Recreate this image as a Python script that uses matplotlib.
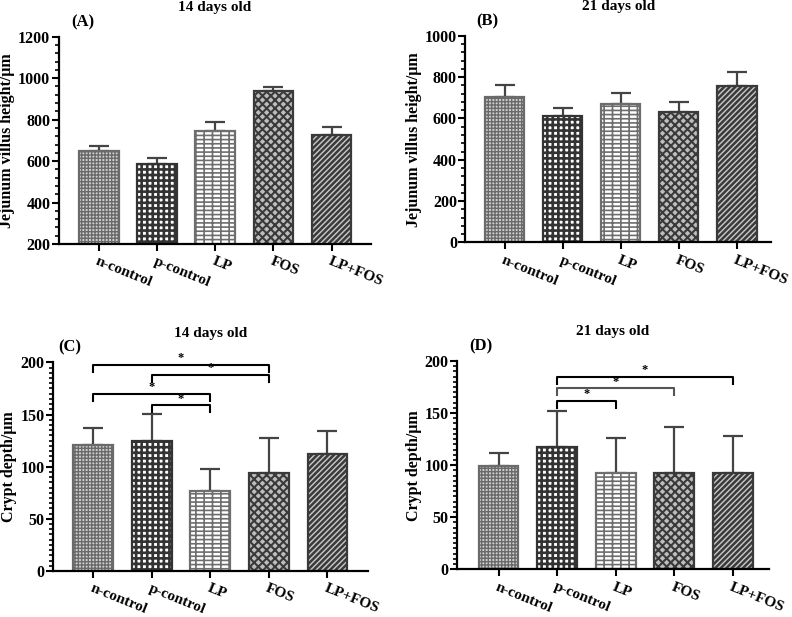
import matplotlib
matplotlib.use('Agg')
import matplotlib.pyplot as plt
from matplotlib.ticker import MultipleLocator

plt.rcParams['font.family'] = ['Liberation Serif', 'DejaVu Serif']
plt.rcParams['font.weight'] = 'bold'
plt.rcParams['hatch.linewidth'] = 1.3

groups = ['n-control', 'p-control', 'LP', 'FOS', 'LP+FOS']

# villus height, jejunum (um)
villus_14 = [650, 588, 743, 936, 724]
villus_14_err = [24, 28, 45, 23, 40]
villus_21 = [705, 610, 669, 632, 758]
villus_21_err = [55, 43, 55, 49, 66]

# crypt depth (um)
crypt_14 = [121, 125, 77, 94, 112]
crypt_14_err = [16, 26, 21, 34, 22]
crypt_21 = [99, 117, 92, 92, 92]
crypt_21_err = [13, 35, 34, 45, 36]

# significance brackets: (i, j, line height, drop)
sig_14 = [(0, 3, 198, 7), (1, 3, 188, 7), (0, 2, 170, 7), (1, 2, 159, 7)]
sig_21 = [(1, 4, 185, 7), (1, 3, 174, 7), (1, 2, 162, 7)]

faces = ['#cfcfcf', 'white', 'white', '#bdbdbd', '#c8c8c8']
edges = ['#6a6a6a', '#333333', '#6e6e6e', '#3a3a3a', '#3a3a3a']
hatches = ['+++++', '+++', '----||', 'xxxx', '//////']
hatch_lw = [1.0, 1.9, 1.2, 1.5, 1.8]

fig = plt.figure(figsize=(7.92, 6.17), dpi=100)
axA = fig.add_axes([0.074, 0.6045, 0.394, 0.336])
axB = fig.add_axes([0.5875, 0.607, 0.386, 0.335])
axC = fig.add_axes([0.0665, 0.0746, 0.398, 0.338])
axD = fig.add_axes([0.577, 0.0773, 0.394, 0.3376])


def draw(ax, vals, errs, ylim, major, minor, ylabel, title, tag, xlim, sig=None):
    x = range(len(groups))
    ax.errorbar(x, vals, yerr=[[0] * len(vals), errs], fmt='none', ecolor='#444444',
                elinewidth=1.6, capsize=7, capthick=1.6, zorder=1)
    for i in x:
        with plt.rc_context({'hatch.linewidth': hatch_lw[i]}):
            ax.bar(i, vals[i], width=0.68, color=faces[i], edgecolor=edges[i],
                   hatch=hatches[i], linewidth=1.6, zorder=2)
    ax.set_xlim(*xlim)
    ax.set_ylim(*ylim)
    ax.yaxis.set_major_locator(MultipleLocator(major))
    ax.yaxis.set_minor_locator(MultipleLocator(minor))
    ax.set_xticks(list(x))
    ax.set_xticklabels(groups, rotation=-22, ha='left', va='top',
                       rotation_mode='anchor', fontsize=11, fontweight='bold')
    for lab in ax.get_yticklabels():
        lab.set_fontweight('bold')
        lab.set_fontsize(11.5)
    ax.tick_params(axis='both', which='major', length=5, width=1.5)
    ax.tick_params(axis='y', pad=1)
    ax.tick_params(axis='x', pad=3)
    ax.tick_params(axis='y', which='minor', length=3, width=1.2)
    ax.spines['top'].set_visible(False)
    ax.spines['right'].set_visible(False)
    ax.spines['left'].set_linewidth(1.6)
    ax.spines['bottom'].set_linewidth(1.6)
    ax.set_ylabel(ylabel, fontsize=11.5, fontweight='bold', labelpad=2)
    ax.text(0.5, 1.14, title, transform=ax.transAxes, ha='center', va='center',
            fontsize=11, fontweight='bold')
    ax.text(tag[1], 1.07, tag[0], transform=ax.transAxes, ha='left', va='center',
            fontsize=12, fontweight='bold')
    if sig:
        for k, (i, j, h, d) in enumerate(sig):
            col = '#555555' if (len(sig) == 3 and k == 1) else 'black'
            ax.plot([i, i, j, j], [h - d, h, h, h - d], color=col, lw=1.5,
                    clip_on=False, zorder=3)
            ax.text((i + j) / 2, h + 0.5, '*', ha='center', va='bottom',
                    fontsize=9, fontweight='bold')


draw(axA, villus_14, villus_14_err, (200, 1200), 200, 40,
     'Jejunum villus height/\u03bcm', '14 days old', ('(A)', 0.04), (-0.69, 4.67))
draw(axB, villus_21, villus_21_err, (0, 1000), 200, 40,
     'Jejunum villus height/\u03bcm', '21 days old', ('(B)', 0.035), (-0.68, 4.59))
draw(axC, crypt_14, crypt_14_err, (0, 200), 50, 5,
     'Crypt depth/\u03bcm', '14 days old', ('(C)', 0.017), (-0.69, 4.69), sig_14)
draw(axD, crypt_21, crypt_21_err, (0, 200), 50, 5,
     'Crypt depth/\u03bcm', '21 days old', ('(D)', 0.04), (-0.71, 4.62), sig_21)

fig.savefig('out.png', dpi=100)
